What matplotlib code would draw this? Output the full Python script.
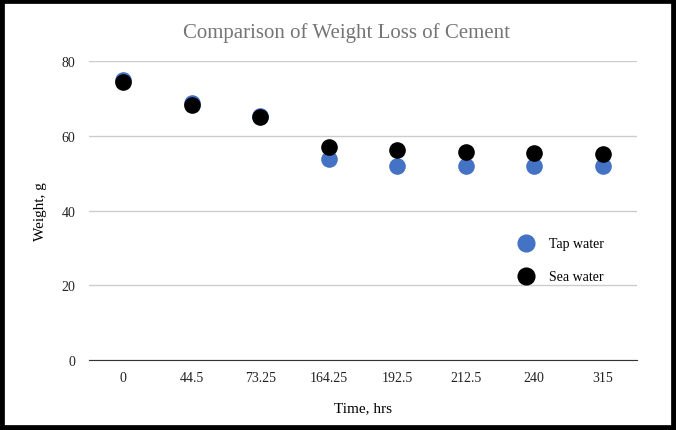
import matplotlib.pyplot as plt
from matplotlib.patches import Rectangle

plt.rcParams['font.family'] = ['Liberation Serif', 'DejaVu Serif']

times = ["0", "44.5", "73.25", "164.25", "192.5", "212.5", "240", "315"]
tap_water = [74.9, 68.9, 65.4, 53.8, 51.8, 51.8, 51.8, 51.8]
sea_water = [74.3, 68.3, 64.9, 57.1, 56.2, 55.7, 55.5, 55.1]

fig = plt.figure(figsize=(6.76, 4.31), dpi=100)
ax = fig.add_axes([0.1317, 0.1624, 0.8106, 0.6937])

x = range(len(times))
ax.scatter(x, tap_water, s=120, color="#4472c4", label="Tap water", zorder=3)
ax.scatter(x, sea_water, s=120, color="black", label="Sea water", zorder=4)

ax.set_xlim(-0.5, len(times) - 0.5)
ax.set_ylim(0, 80)
ax.set_yticks([0, 20, 40, 60, 80])
ax.set_xticks(list(x))
ax.set_xticklabels(times)
ax.grid(axis="y", color="#cccccc", linewidth=1)
ax.set_axisbelow(True)
for side in ["top", "right", "left"]:
    ax.spines[side].set_visible(False)
ax.spines["bottom"].set_color("#333333")
ax.tick_params(length=0, labelsize=10, colors="#222222", pad=8)
ax.tick_params(axis="y", pad=10)

ax.set_xlabel("Time, hrs", fontsize=11, labelpad=12)
ax.set_ylabel("Weight, g", fontsize=11, labelpad=10)

fig.text(0.512, 0.923, "Comparison of Weight Loss of Cement", ha="center",
         va="center", fontsize=15, color="#757575")

ax.legend(loc="center left", bbox_to_anchor=(0.75, 0.335), frameon=False,
          fontsize=10, labelspacing=1.4, handletextpad=0.6, markerscale=1.1)

fig.patches.append(Rectangle((0, 0), 1, 1, transform=fig.transFigure,
                             fill=False, edgecolor="black", linewidth=7))

fig.savefig("out.png", dpi=100)
